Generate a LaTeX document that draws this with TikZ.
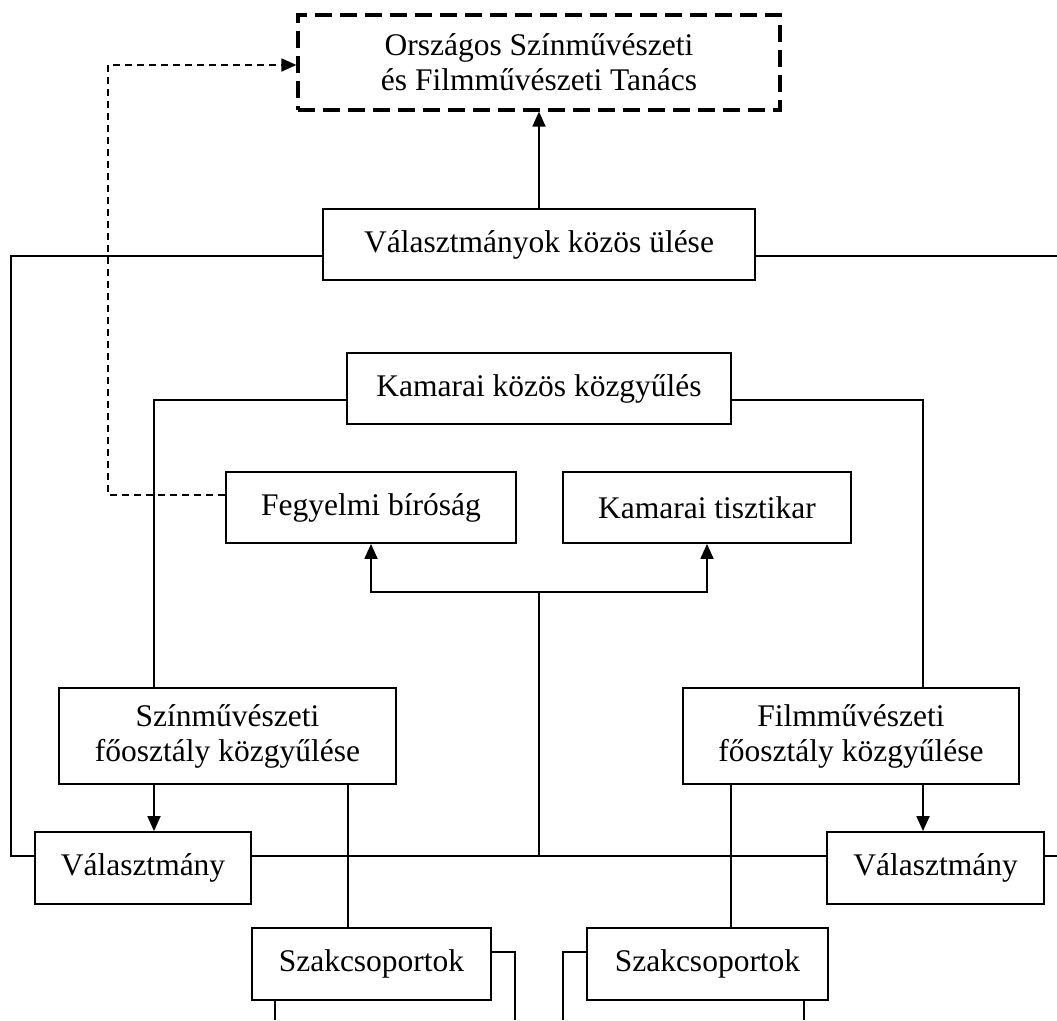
\documentclass[tikz,border=0pt]{standalone}
\usepackage{fontspec}
\setmainfont{Liberation Serif}
\usetikzlibrary{arrows.meta}
\begin{document}
\begin{tikzpicture}[x=1pt,y=-1pt,
  box/.style={draw, line width=1.8pt, inner sep=0pt, align=center,
    font=\fontsize{31.5}{35}\selectfont},
  link/.style={line width=1.8pt},
  tip/.style={-{Triangle[length=15pt,width=13pt]}},
  arr/.style={link, tip},
  dashlink/.style={line width=1.8pt, dash pattern=on 7pt off 5pt},
]
\useasboundingbox (0,0) rectangle (1057,1020);

% boxes
\node[box, line width=3.2pt, dash pattern=on 17pt off 8pt,
      minimum width=482pt, minimum height=95pt] (tanacs) at (539,62.5)
      {Országos Színművészeti\\és Filmművészeti Tanács};
\node[box, minimum width=432pt, minimum height=71pt] (vk) at (539,244.5)
      {Választmányok közös ülése};
\node[box, minimum width=384pt, minimum height=71pt] (kk) at (539,388.5)
      {Kamarai közös közgyűlés};
\node[box, minimum width=290pt, minimum height=71pt] (fb) at (371,507.5)
      {Fegyelmi bíróság};
\node[box, minimum width=288pt, minimum height=71pt] (kt) at (707,507.5)
      {Kamarai tisztikar};
\node[box, minimum width=337pt, minimum height=96pt] (szf) at (227.5,736)
      {Színművészeti\\főosztály közgyűlése};
\node[box, minimum width=336pt, minimum height=96pt] (fmf) at (851,736)
      {Filmművészeti\\főosztály közgyűlése};
\node[box, minimum width=216pt, minimum height=72pt] (val1) at (143,868)
      {Választmány};
\node[box, minimum width=217pt, minimum height=72pt] (val2) at (935.5,868)
      {Választmány};
\node[box, minimum width=239pt, minimum height=72pt] (szk1) at (371.5,964)
      {Szakcsoportok};
\node[box, minimum width=241pt, minimum height=72pt] (szk2) at (707.5,964)
      {Szakcsoportok};

% line levels and columns
\coordinate (yA) at (0,256);
\coordinate (yB) at (0,400);
\coordinate (yC) at (0,495);
\coordinate (yD) at (0,65);
\coordinate (yE) at (0,856);
\coordinate (yF) at (0,952);
\coordinate (xL) at (11,0);
\coordinate (xD) at (108,0);
\coordinate (xS1) at (154,0);
\coordinate (xS2) at (348,0);
\coordinate (xF1) at (923,0);
\coordinate (xF3) at (731,0);
\coordinate (xQ1) at (275,0);
\coordinate (xQ4) at (804,0);

% free ends at the page rim
\coordinate (rimA) at (1057,256);
\coordinate (rimE) at (1057,856);
\coordinate (endA) at (275,1020);
\coordinate (endB) at (515,1020);
\coordinate (endC) at (563,1020);
\coordinate (endD) at (804,1020);

% junctions of the central trunk
\coordinate (fork) at (539,592);
\coordinate (hub) at (539,856);

% connectors
\draw[arr] (vk.north) -- (tanacs.south);
\draw[link] (vk.west |- yA) -| (xL |- yE) -- (val1.west |- yE);
\draw[link] (vk.east |- yA) -- (rimA);
\draw[link] (kk.west |- yB) -| (szf.north -| xS1);
\draw[link] (kk.east |- yB) -| (fmf.north -| xF1);
\draw[dashlink, tip] (fb.west |- yC) -| (xD |- yD) -- (tanacs.west |- yD);
\draw[link] (hub) -- (fork);
\draw[arr] (fork) -| (fb.south);
\draw[arr] (fork) -| (kt.south);
\draw[link] (val1.east |- yE) -- (val2.west |- yE);
\draw[link] (val2.east |- yE) -- (rimE);
\draw[arr] (szf.south -| xS1) -- (val1.north -| xS1);
\draw[arr] (fmf.south -| xF1) -- (val2.north -| xF1);
\draw[link] (szf.south -| xS2) -- (szk1.north -| xS2);
\draw[link] (fmf.south -| xF3) -- (szk2.north -| xF3);
\draw[link] (szk1.south -| xQ1) -- (endA);
\draw[link] (szk1.east |- yF) -| (endB);
\draw[link] (szk2.west |- yF) -| (endC);
\draw[link] (szk2.south -| xQ4) -- (endD);
\end{tikzpicture}
\end{document}
